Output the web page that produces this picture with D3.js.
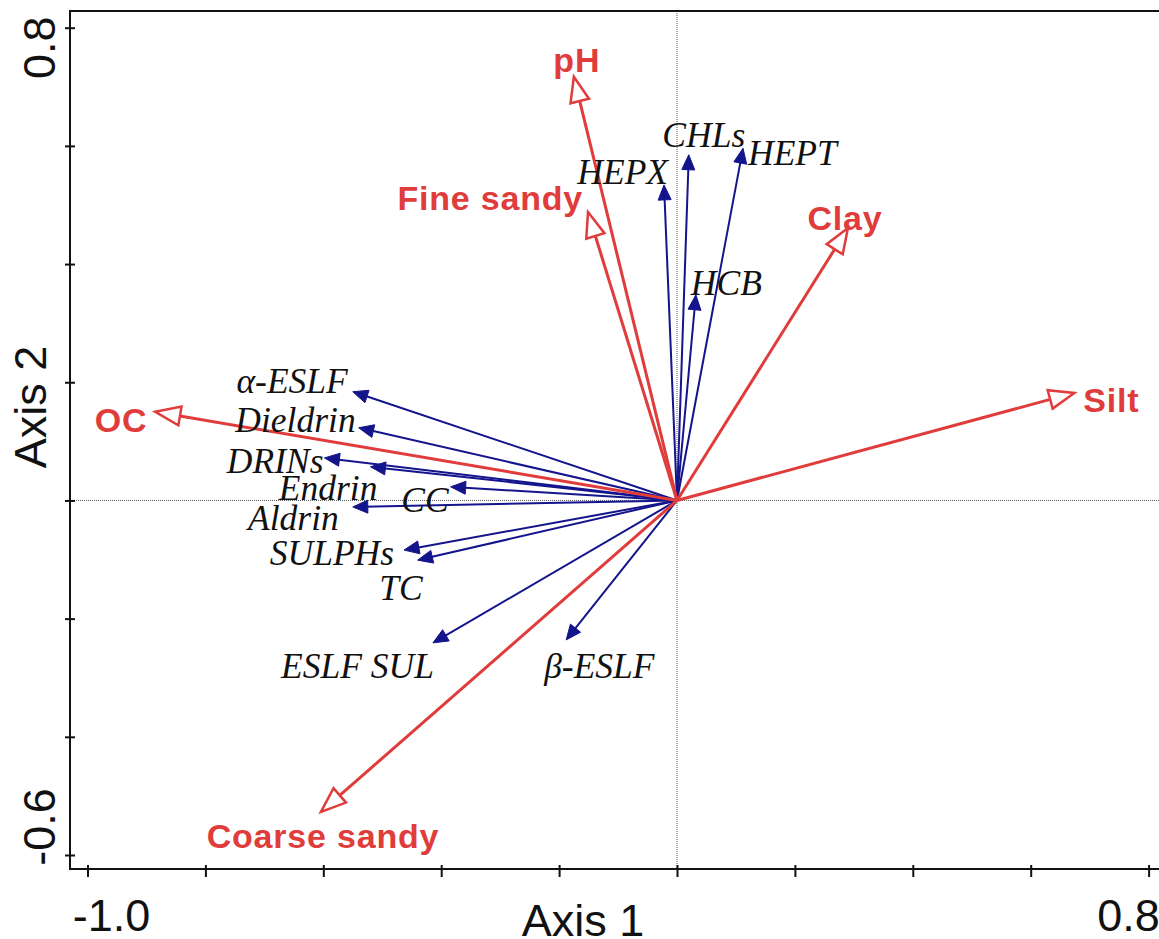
<!DOCTYPE html>
<html>
<head>
<meta charset="utf-8">
<script src="https://cdn.jsdelivr.net/npm/d3@7"></script>
<style>
  html, body { margin: 0; padding: 0; background: #fff; overflow: hidden; }
  svg { display: block; }
</style>
</head>
<body>
<svg class="biplot" width="1159" height="939"></svg>
<script>
// environmental variables (red, hollow heads)
const envNames = ["pH", "Fine sandy", "Clay", "Silt", "OC", "Coarse sandy"];
const envAxis1 = [-0.175, -0.151, 0.290, 0.674, -0.885, -0.604];
const envAxis2 = [0.717, 0.488, 0.461, 0.182, 0.150, -0.527];

// pesticides (blue, filled heads)
const spNames = ["HEPX", "CHLs", "HEPT", "HCB", "α-ESLF", "Dieldrin", "DRINs", "Endrin",
  "CC", "Aldrin", "SULPHs", "TC", "ESLF SUL", "β-ESLF"];
const spAxis1 = [-0.022, 0.020, 0.112, 0.032, -0.550, -0.540, -0.598, -0.520,
  -0.384, -0.550, -0.463, -0.440, -0.414, -0.188];
const spAxis2 = [0.534, 0.585, 0.596, 0.348, 0.184, 0.123, 0.072, 0.057,
  0.023, -0.011, -0.084, -0.101, -0.241, -0.236];

// axis ticks and the two labelled ends
const tickValsX = [-1.0, -0.8, -0.6, -0.4, -0.2, 0, 0.2, 0.4, 0.6, 0.8];
const tickValsY = [-0.6, -0.4, -0.2, 0, 0.2, 0.4, 0.6, 0.8];
const xEndLabels = ["-1.0", "0.8"];
const yEndLabels = ["-0.6", "0.8"];

// label placement next to each arrow tip (pixels)
const labelPos = {
  "pH":           { dx: 3,   dy: -5, anchor: "middle" },
  "Fine sandy":   { dx: -5,  dy: -2, anchor: "end" },
  "Clay":         { dx: -3,  dy: 2,  anchor: "middle" },
  "Silt":         { dx: 9,   dy: 19, anchor: "start" },
  "OC":           { dx: -8,  dy: 20, anchor: "end" },
  "Coarse sandy": { dx: 2,   dy: 36, anchor: "middle" },
  "HEPX":         { dx: 4,   dy: -1, anchor: "end" },
  "CHLs":         { dx: 15,  dy: -8, anchor: "middle" },
  "HEPT":         { dx: 5,   dy: 17, anchor: "start" },
  "HCB":          { dx: -5,  dy: 0,  anchor: "start" },
  "α-ESLF":       { dx: -5,  dy: 1,  anchor: "end" },
  "Dieldrin":     { dx: -3,  dy: 4,  anchor: "end" },
  "DRINs":        { dx: -1,  dy: 15, anchor: "end" },
  "Endrin":       { dx: 7,   dy: 33, anchor: "end" },
  "CC":           { dx: -2,  dy: 25, anchor: "end" },
  "Aldrin":       { dx: -14, dy: 23, anchor: "end" },
  "SULPHs":       { dx: -10, dy: 15, anchor: "end" },
  "TC":           { dx: 5,   dy: 40, anchor: "end" },
  "ESLF SUL":     { dx: 1,   dy: 35, anchor: "end" },
  "β-ESLF":       { dx: -22, dy: 38, anchor: "start" }
};

const RED = "#e03c3c";
const BLUE = "#14148c";
const SANS = "'Liberation Sans', Arial, Helvetica, sans-serif";
const SERIF = "'Liberation Serif', 'Times New Roman', serif";

const $svg = d3.select(".biplot");

// frame edges (right edge runs off the picture)
const frame = { left: 70, top: 11, right: 1175, bottom: 869 };

const x = d3.scaleLinear().domain([-1.0, 0.8]).range([87.5, 1148.6]);
const y = d3.scaleLinear().domain([-0.6, 0.8]).range([855, 27.7]);

// dotted zero lines
$svg.append("line")
  .attr("x1", x(0)).attr("x2", x(0))
  .attr("y1", frame.top).attr("y2", frame.bottom)
  .attr("stroke", "#555").attr("stroke-width", 1).attr("stroke-dasharray", "1,1");
$svg.append("line")
  .attr("x1", frame.left).attr("x2", frame.right)
  .attr("y1", y(0)).attr("y2", y(0))
  .attr("stroke", "#555").attr("stroke-width", 1).attr("stroke-dasharray", "1,1");

// frame
$svg.append("rect")
  .attr("x", frame.left).attr("y", frame.top)
  .attr("width", frame.right - frame.left).attr("height", frame.bottom - frame.top)
  .attr("fill", "none").attr("stroke", "#111").attr("stroke-width", 2);

// ticks (crossing the frame)
const gx = $svg.append("g")
  .attr("transform", `translate(0,${frame.bottom})`)
  .call(d3.axisBottom(x).tickValues(tickValsX).tickSize(8).tickFormat(""));
gx.select(".domain").remove();
gx.selectAll(".tick line").attr("y1", -4).attr("stroke", "#111").attr("stroke-width", 2);

const gy = $svg.append("g")
  .attr("transform", `translate(${frame.left},0)`)
  .call(d3.axisLeft(y).tickValues(tickValsY).tickSize(5).tickFormat(""));
gy.select(".domain").remove();
gy.selectAll(".tick line").attr("x1", 5).attr("stroke", "#111").attr("stroke-width", 2);

// end tick labels, pulled inwards like the original
const xDom = x.domain(), yDom = y.domain();
$svg.selectAll(".xend").data(xEndLabels).join("text")
  .attr("x", (d, i) => x(xDom[i]) + (i === 0 ? 24 : -20))
  .attr("y", 931)
  .attr("text-anchor", "middle")
  .attr("font-family", SANS).attr("font-size", 45).attr("fill", "#111")
  .text(d => d);

$svg.selectAll(".yend").data(yEndLabels).join("text")
  .attr("transform", (d, i) => `translate(55,${y(yDom[i]) + (i === 0 ? -28 : 20)}) rotate(-90)`)
  .attr("text-anchor", "middle")
  .attr("font-family", SANS).attr("font-size", 45).attr("fill", "#111")
  .text(d => d);

// axis titles
$svg.append("text")
  .attr("x", 583).attr("y", 936)
  .attr("text-anchor", "middle")
  .attr("font-family", SANS).attr("font-size", 45).attr("fill", "#111")
  .text("Axis 1");
$svg.append("text")
  .attr("transform", "translate(46,407) rotate(-90)")
  .attr("text-anchor", "middle")
  .attr("font-family", SANS).attr("font-size", 45).attr("fill", "#111")
  .text("Axis 2");

// build rows for drawing
const envRows = envNames.map((n, i) => ({ name: n, a1: envAxis1[i], a2: envAxis2[i] }));
const spRows = spNames.map((n, i) => ({ name: n, a1: spAxis1[i], a2: spAxis2[i] }));

// arrow geometry: returns base centre and triangle points
const arrowGeom = function(d, len, half) {
  const x0 = x(0), y0 = y(0);
  const tx = x(d.a1), ty = y(d.a2);
  const L = Math.hypot(tx - x0, ty - y0);
  const ux = (tx - x0) / L, uy = (ty - y0) / L;
  const bx = tx - ux * len, by = ty - uy * len;
  const px = -uy * half, py = ux * half;
  return {
    x0, y0, tx, ty, bx, by,
    pts: [[tx, ty], [bx + px, by + py], [bx - px, by - py]]
  };
};

const drawArrows = function(rows, cls, color, width, len, half, hollow) {
  const g = $svg.append("g").attr("class", cls);
  rows.forEach(d => {
    const a = arrowGeom(d, len, half);
    g.append("line")
      .attr("x1", a.x0).attr("y1", a.y0)
      .attr("x2", hollow ? a.bx : a.bx + (a.tx - a.bx) * 0.3)
      .attr("y2", hollow ? a.by : a.by + (a.ty - a.by) * 0.3)
      .attr("stroke", color).attr("stroke-width", width);
    g.append("polygon")
      .attr("points", a.pts.map(p => p.join(",")).join(" "))
      .attr("fill", hollow ? "#fff" : color)
      .attr("stroke", color)
      .attr("stroke-width", hollow ? 2.5 : 1)
      .attr("stroke-linejoin", "miter");
  });
};

// blue pesticide arrows first, red env arrows over them
drawArrows(spRows, "species", BLUE, 2, 15, 6.5, false);
drawArrows(envRows, "env", RED, 3, 25, 9.5, true);

// labels
$svg.append("g").selectAll("text").data(spRows).join("text")
  .attr("x", d => x(d.a1) + labelPos[d.name].dx)
  .attr("y", d => y(d.a2) + labelPos[d.name].dy)
  .attr("text-anchor", d => labelPos[d.name].anchor)
  .attr("font-family", SERIF).attr("font-style", "italic")
  .attr("font-size", 35.5).attr("fill", "#111")
  .text(d => d.name);

$svg.append("g").selectAll("text").data(envRows).join("text")
  .attr("x", d => x(d.a1) + labelPos[d.name].dx)
  .attr("y", d => y(d.a2) + labelPos[d.name].dy)
  .attr("text-anchor", d => labelPos[d.name].anchor)
  .attr("font-family", SANS).attr("font-weight", "bold")
  .attr("font-size", 34).attr("letter-spacing", 0.8).attr("fill", RED)
  .text(d => d.name);
</script>
</body>
</html>
